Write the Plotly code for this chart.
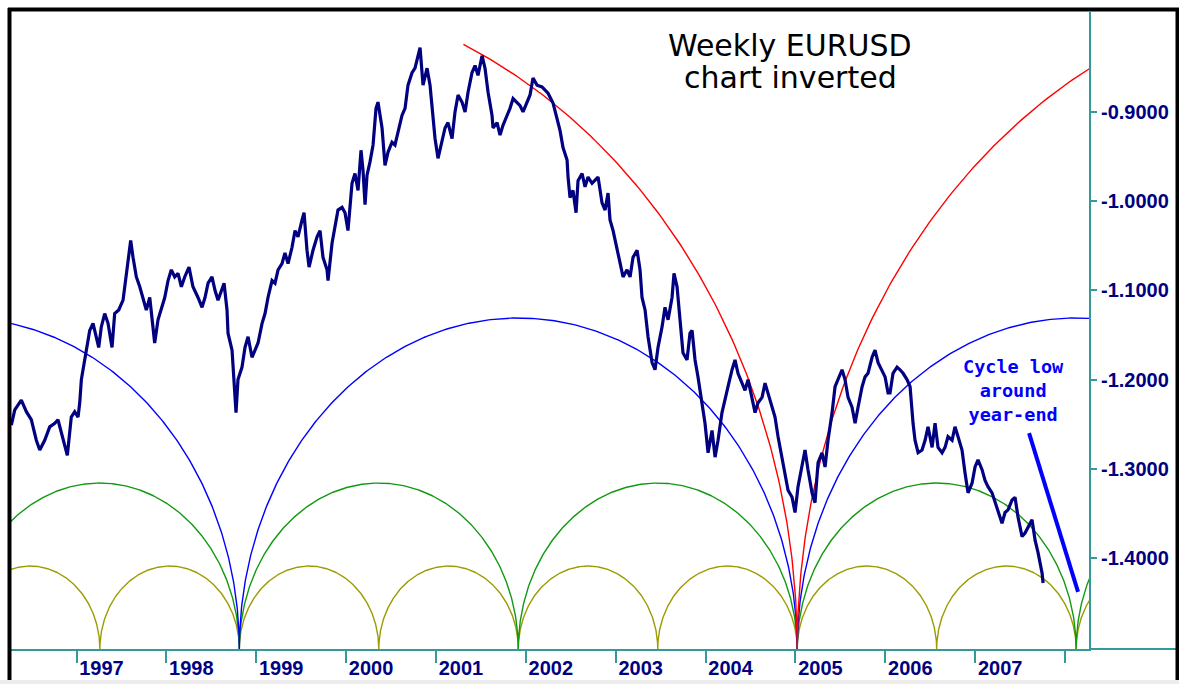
import numpy as np
import plotly.graph_objects as go

# ---------------- data ----------------
# decimal year of each sampled weekly point
years = [
    1996.275, 1996.313, 1996.386, 1996.442, 1996.497, 1996.553, 1996.591, 1996.646, 1996.702, 1996.758,
    1996.794, 1996.831, 1996.869, 1996.898, 1996.942, 1996.980, 1997.017, 1997.036, 1997.054, 1997.084,
    1997.109, 1997.147, 1997.184, 1997.221, 1997.247, 1997.276, 1997.314, 1997.351, 1997.395, 1997.425,
    1997.470, 1997.518, 1997.543, 1997.573, 1997.603, 1997.629, 1997.666, 1997.704, 1997.740, 1997.777,
    1997.815, 1997.852, 1997.870, 1997.907, 1997.944, 1997.982, 1998.019, 1998.055, 1998.093, 1998.130,
    1998.167, 1998.204,
    1998.252, 1998.296, 1998.352, 1998.397, 1998.430, 1998.464, 1998.508, 1998.541, 1998.575, 1998.619,
    1998.642, 1998.675, 1998.686, 1998.731, 1998.753, 1998.775, 1998.797, 1998.842, 1998.875, 1998.909,
    1998.953, 1998.987, 1999.020, 1999.065, 1999.098, 1999.131, 1999.176, 1999.209, 1999.243, 1999.287,
    1999.320, 1999.354, 1999.398, 1999.432, 1999.465, 1999.510, 1999.532, 1999.565, 1999.588, 1999.632,
    1999.677, 1999.710, 1999.743, 1999.788, 1999.799, 1999.844, 1999.877, 1999.910, 1999.955, 1999.988,
    2000.021, 2000.066, 2000.099, 2000.133, 2000.166, 2000.188,
    2000.211, 2000.233, 2000.266, 2000.300, 2000.333, 2000.355, 2000.400, 2000.433, 2000.467, 2000.511,
    2000.544, 2000.578, 2000.622, 2000.656, 2000.689, 2000.734, 2000.767, 2000.801, 2000.823, 2000.856,
    2000.901, 2000.934, 2000.968, 2000.990, 2001.023, 2001.068, 2001.101, 2001.134, 2001.179, 2001.212,
    2001.246, 2001.290, 2001.324, 2001.357, 2001.401, 2001.435, 2001.468, 2001.513, 2001.546, 2001.580,
    2001.624, 2001.635, 2001.680, 2001.713, 2001.746, 2001.791, 2001.824, 2001.858, 2001.902, 2001.936,
    2001.969, 2002.013, 2002.047, 2002.080, 2002.125,
    2002.180, 2002.247, 2002.303, 2002.347, 2002.381, 2002.414, 2002.459, 2002.470, 2002.492, 2002.525,
    2002.559, 2002.581, 2002.626, 2002.659, 2002.692, 2002.737, 2002.770, 2002.804, 2002.848, 2002.882,
    2002.915, 2002.937, 2002.971, 2003.015, 2003.048, 2003.082, 2003.126, 2003.160, 2003.193, 2003.238,
    2003.271, 2003.293, 2003.327, 2003.360, 2003.405, 2003.438, 2003.471, 2003.516, 2003.549, 2003.583,
    2003.627, 2003.649, 2003.683, 2003.716, 2003.749, 2003.794, 2003.827, 2003.850, 2003.883, 2003.916,
    2003.961, 2003.994, 2004.028, 2004.072,
    2004.106, 2004.139, 2004.183, 2004.217, 2004.250, 2004.295, 2004.328, 2004.361, 2004.406, 2004.439,
    2004.473, 2004.517, 2004.551, 2004.584, 2004.629, 2004.662, 2004.695, 2004.740, 2004.773, 2004.807,
    2004.851, 2004.885, 2004.918, 2004.963, 2004.996, 2005.029, 2005.074, 2005.107, 2005.140, 2005.185,
    2005.218, 2005.252, 2005.296, 2005.330, 2005.363, 2005.408, 2005.441, 2005.474, 2005.519, 2005.552,
    2005.586, 2005.630, 2005.664, 2005.697, 2005.742, 2005.775, 2005.808, 2005.853, 2005.886, 2005.920,
    2005.964, 2005.998, 2006.031,
    2006.053, 2006.086, 2006.131, 2006.164, 2006.198, 2006.242, 2006.276, 2006.309, 2006.331, 2006.365,
    2006.409, 2006.443, 2006.476, 2006.521, 2006.554, 2006.587, 2006.632, 2006.665, 2006.698, 2006.743,
    2006.776, 2006.810, 2006.854, 2006.888, 2006.921, 2006.966, 2006.999, 2007.032, 2007.077, 2007.110,
    2007.143, 2007.188, 2007.221, 2007.255, 2007.299, 2007.333, 2007.366, 2007.411, 2007.444, 2007.477,
    2007.522, 2007.555, 2007.589, 2007.633, 2007.667, 2007.700, 2007.745, 2007.756,
]

# EURUSD rate at those points (plotted inverted)
eurusd = [
    1.251, 1.234, 1.223, 1.236, 1.245, 1.268, 1.279, 1.268, 1.253, 1.249,
    1.245, 1.260, 1.276, 1.285, 1.242, 1.236, 1.242, 1.226, 1.200, 1.181,
    1.170, 1.145, 1.137, 1.152, 1.164, 1.141, 1.126, 1.137, 1.164, 1.126,
    1.122, 1.111, 1.089, 1.063, 1.044, 1.063, 1.085, 1.096, 1.108, 1.122,
    1.108, 1.145, 1.159, 1.133, 1.119, 1.108, 1.089, 1.077, 1.085, 1.081,
    1.096, 1.085,
    1.074, 1.096, 1.108, 1.119, 1.108, 1.092, 1.085, 1.100, 1.111, 1.100,
    1.092, 1.122, 1.148, 1.167, 1.197, 1.237, 1.200, 1.186, 1.164, 1.152,
    1.175, 1.167, 1.159, 1.137, 1.126, 1.108, 1.089, 1.092, 1.077, 1.070,
    1.058, 1.070, 1.052, 1.033, 1.040, 1.021, 1.013, 1.055, 1.074, 1.055,
    1.040, 1.033, 1.063, 1.077, 1.089, 1.047, 1.029, 1.010, 1.007, 1.013,
    1.033, 0.980, 0.969, 0.988, 0.943, 0.965,
    1.004, 0.971, 0.956, 0.937, 0.896, 0.889, 0.918, 0.960, 0.945, 0.934,
    0.937, 0.923, 0.904, 0.896, 0.870, 0.856, 0.851, 0.837, 0.828, 0.870,
    0.851, 0.870, 0.907, 0.930, 0.952, 0.934, 0.918, 0.912, 0.930, 0.900,
    0.881, 0.889, 0.900, 0.878, 0.856, 0.848, 0.859, 0.837, 0.851, 0.878,
    0.904, 0.918, 0.912, 0.926, 0.915, 0.904, 0.896, 0.885, 0.889, 0.893,
    0.900, 0.889, 0.881, 0.862, 0.870,
    0.872, 0.879, 0.890, 0.909, 0.921, 0.940, 0.954, 0.973, 0.996, 0.988,
    1.013, 0.977, 0.969, 0.984, 0.973, 0.980, 0.977, 0.973, 1.002, 1.010,
    0.991, 1.021, 1.033, 1.052, 1.069, 1.085, 1.077, 1.085, 1.063, 1.055,
    1.077, 1.108, 1.122, 1.152, 1.181, 1.189, 1.164, 1.141, 1.119, 1.133,
    1.108, 1.081, 1.096, 1.133, 1.170, 1.178, 1.148, 1.145, 1.178, 1.197,
    1.226, 1.249, 1.282, 1.257,
    1.287, 1.268, 1.237, 1.220, 1.208, 1.189, 1.178, 1.193, 1.204, 1.212,
    1.200, 1.220, 1.237, 1.226, 1.220, 1.204, 1.215, 1.231, 1.242, 1.264,
    1.287, 1.305, 1.324, 1.332, 1.349, 1.320, 1.298, 1.279, 1.301, 1.327,
    1.338, 1.293, 1.282, 1.298, 1.268, 1.237, 1.208, 1.200, 1.189, 1.200,
    1.220, 1.231, 1.249, 1.231, 1.208, 1.197, 1.193, 1.175, 1.167, 1.181,
    1.189, 1.197, 1.215,
    1.215, 1.193, 1.186, 1.189, 1.193, 1.200, 1.208, 1.249, 1.268, 1.282,
    1.279, 1.268, 1.253, 1.276, 1.249, 1.276, 1.282, 1.276, 1.264, 1.268,
    1.253, 1.264, 1.279, 1.305, 1.327, 1.316, 1.298, 1.290, 1.301, 1.313,
    1.320, 1.327, 1.338, 1.349, 1.361, 1.349, 1.346, 1.335, 1.332, 1.354,
    1.376, 1.372, 1.365, 1.357, 1.380, 1.394, 1.417, 1.428,
]

# axis ticks
year_ticks = [1997, 1998, 1999, 2000, 2001, 2002, 2003, 2004, 2005, 2006, 2007, 2008]
year_labels = ["1997", "1998", "1999", "2000", "2001", "2002", "2003", "2004", "2005", "2006", "2007", ""]
value_ticks = [-0.9, -1.0, -1.1, -1.2, -1.3, -1.4]
value_labels = ["-0.9000", "-1.0000", "-1.1000", "-1.2000", "-1.3000", "-1.4000"]

# cycle arcs (troughs line up on a common low)
cycle_anchor_trough = 2005.02
cycle_base = -1.502
cycle_periods = [1.552, 3.104, 6.208, 12.416]
cycle_heights = [0.093, 0.186, 0.371, 0.740]
cycle_colors = ["#9c9c00", "#119911", "#0000ff", "#ff0000"]
cycle_starts = [None, None, None, 2001.27]

x_range = [1996.26, 2008.267]
y_range = [-1.502, -0.788]

# text positions (year, value)
title_lines = ["Weekly EURUSD", "chart inverted"]
title_pos = [(2004.94, -0.826), (2004.94, -0.861)]
note_text = "Cycle low<br>around<br>year-end"
note_pos = (2007.422, -1.212)
pointer_start = (2007.60, -1.260)
pointer_end = (2008.145, -1.438)

TEAL = "#339999"
NAVY = "#000080"

fig = go.Figure()

# cycle arcs
for period, height, color, start in zip(cycle_periods, cycle_heights, cycle_colors, cycle_starts):
    k0 = int(np.floor((x_range[0] - cycle_anchor_trough) / period)) - 1
    k1 = int(np.ceil((x_range[1] - cycle_anchor_trough) / period)) + 1
    xs, ys = [], []
    theta = np.linspace(np.pi, 0, 400)
    for k in range(k0, k1):
        t = cycle_anchor_trough + k * period
        c = t + period / 2
        a = period / 2
        xs.extend(c + a * np.cos(theta))
        ys.extend(cycle_base + height * np.sin(theta))
    xs = np.array(xs)
    ys = np.array(ys)
    if start is not None:
        m = xs >= start
        xs, ys = xs[m], ys[m]
    fig.add_trace(go.Scatter(x=xs, y=ys, mode="lines",
                             line=dict(color=color, width=1.4),
                             hoverinfo="skip", showlegend=False))

# inverted price
fig.add_trace(go.Scatter(x=years, y=[-v for v in eurusd], mode="lines",
                         line=dict(color=NAVY, width=3.2),
                         showlegend=False, hoverinfo="skip"))

W, H = 1179, 684
ml, mr, mt, mb = 10, 1179 - 1089, 12, 684 - 649
pw, ph = W - ml - mr, H - mt - mb


def px_x(p):  # page pixel -> paper x
    return (p - ml) / pw


def px_y(p):  # page pixel -> paper y
    return (H - mb - p) / ph


shapes = [
    # pointer line
    dict(type="line", xref="x", yref="y", x0=pointer_start[0], y0=pointer_start[1],
         x1=pointer_end[0], y1=pointer_end[1], line=dict(color="#0000ff", width=4)),
    # axis line extension to the right frame
    dict(type="line", xref="paper", yref="paper", x0=1, x1=px_x(1177), y0=0, y1=0,
         line=dict(color=TEAL, width=2)),
    # bottom grey strip
    dict(type="rect", xref="paper", yref="paper", x0=px_x(0), x1=px_x(1179), y0=px_y(680), y1=px_y(684),
         fillcolor="#ececec", line=dict(width=0), layer="above"),
    # black frame
    dict(type="line", xref="paper", yref="paper", x0=px_x(9.5), x1=px_x(9.5), y0=px_y(8), y1=px_y(680),
         line=dict(color="black", width=4), layer="above"),
    dict(type="line", xref="paper", yref="paper", x0=px_x(8), x1=px_x(1179), y0=px_y(9.5), y1=px_y(9.5),
         line=dict(color="black", width=4), layer="above"),
    dict(type="line", xref="paper", yref="paper", x0=px_x(1177.5), x1=px_x(1177.5), y0=px_y(8), y1=px_y(680),
         line=dict(color="black", width=4), layer="above"),
]

annotations = [
    dict(x=p[0], y=p[1], xref="x", yref="y", text=t, showarrow=False,
         font=dict(family="DejaVu Sans", size=30, color="black"))
    for t, p in zip(title_lines, title_pos)
] + [
    dict(x=note_pos[0], y=note_pos[1], xref="x", yref="y", text=note_text,
         showarrow=False, font=dict(family="DejaVu Sans Mono", size=18.5, color="#0000ff", weight="bold"),
         align="center"),
]

fig.update_layout(
    width=W, height=H,
    margin=dict(l=ml, r=mr, t=mt, b=mb, pad=0, autoexpand=False),
    paper_bgcolor="white", plot_bgcolor="white",
    showlegend=False,
    shapes=shapes,
    annotations=annotations,
    xaxis=dict(range=x_range, tickmode="array", tickvals=year_ticks, ticktext=year_labels,
               showgrid=False, zeroline=False, showline=True, linecolor=TEAL, linewidth=2,
               ticks="outside", ticklen=12, tickwidth=2, tickcolor=TEAL,
               ticklabelshift=25, ticklabelstandoff=-12, automargin=False,
               tickfont=dict(family="Liberation Sans", size=20, color=NAVY, weight="bold"),
               fixedrange=True),
    yaxis=dict(range=y_range, side="right", tickmode="array", tickvals=value_ticks, ticktext=value_labels,
               showgrid=False, zeroline=False, showline=True, linecolor=TEAL, linewidth=2,
               ticks="outside", ticklen=6, tickwidth=2, tickcolor=TEAL, automargin=False,
               tickfont=dict(family="Liberation Sans", size=20, color=NAVY, weight="bold"),
               fixedrange=True),
)

fig.write_html("out.html", config={"displayModeBar": False},
               post_script="document.body.style.margin='0px';document.body.style.overflow='hidden';")
